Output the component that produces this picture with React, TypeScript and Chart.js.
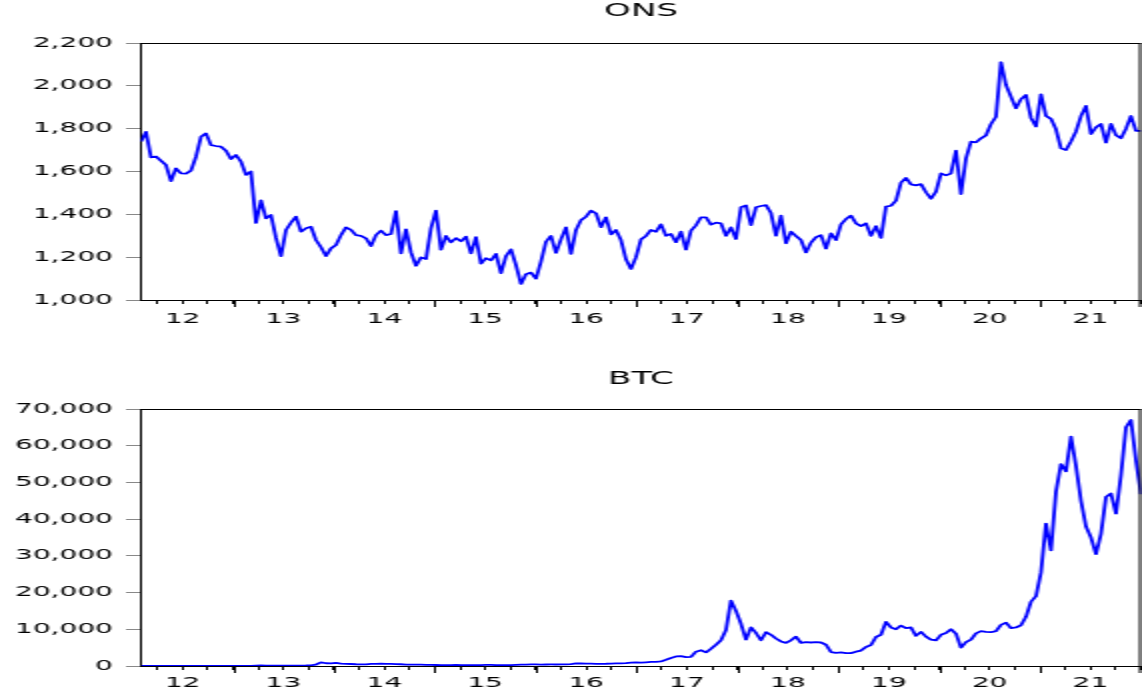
import React, { useEffect, useRef } from 'react';
import { Chart, registerables } from 'chart.js';

Chart.register(...registerables);

// ---- data ----
const X_START = 2012.088; // first observation (fractional year)
const X_END = 2022.0; // last observation
const YEARS = [2012, 2013, 2014, 2015, 2016, 2017, 2018, 2019, 2020, 2021];
const YEAR_LABELS = ['12', '13', '14', '15', '16', '17', '18', '19', '20', '21'];
const ONS_TICKS = [1000, 1200, 1400, 1600, 1800, 2000, 2200];
const BTC_TICKS = [0, 10000, 20000, 30000, 40000, 50000, 60000, 70000];

const ONS_VALUES = [
  1740, 1785, 1666, 1670, 1650, 1630, 1555, 1615, 1591, 1590,
  1604, 1669, 1762, 1778, 1723, 1719, 1716, 1697, 1658, 1677,
  1646, 1584, 1600, 1360, 1465, 1381, 1397, 1290, 1205, 1327,
  1361, 1389, 1319, 1335, 1342, 1280, 1246, 1205, 1241, 1257,
  1303, 1339, 1327, 1303, 1299, 1288, 1252, 1303, 1324, 1303,
  1308, 1415, 1218, 1330, 1222, 1160, 1199, 1191, 1335, 1417,
  1235, 1299, 1269, 1289, 1274, 1296, 1218, 1293, 1170, 1195,
  1185, 1215, 1125, 1205, 1236, 1163, 1075, 1120, 1128, 1100,
  1179, 1272, 1299, 1220, 1283, 1339, 1215, 1327, 1373, 1389,
  1417, 1405, 1340, 1386, 1306, 1327, 1280, 1190, 1145, 1200,
  1283, 1299, 1327, 1319, 1353, 1300, 1308, 1270, 1319, 1235,
  1324, 1349, 1386, 1386, 1352, 1361, 1358, 1300, 1339, 1285,
  1433, 1442, 1350, 1433, 1439, 1443, 1406, 1300, 1394, 1265,
  1319, 1299, 1280, 1222, 1268, 1293, 1303, 1240, 1311, 1280,
  1353, 1378, 1394, 1358, 1345, 1358, 1300, 1345, 1290, 1436,
  1440, 1464, 1548, 1570, 1540, 1535, 1541, 1503, 1473, 1506,
  1591, 1582, 1591, 1697, 1495, 1661, 1739, 1736, 1755, 1769,
  1822, 1856, 2110, 2004, 1949, 1895, 1938, 1957, 1850, 1810,
  1960, 1860, 1846, 1797, 1708, 1700, 1740, 1787, 1859, 1906,
  1775, 1806, 1822, 1735, 1822, 1770, 1755, 1800, 1859, 1790,
  1790,
];

const BTC_VALUES = [
  6, 5, 5, 5, 5, 5, 6, 7, 7, 8,
  11, 11, 12, 12, 11, 12, 13, 13, 13, 17,
  22, 30, 47, 90, 140, 115, 120, 105, 95, 80,
  95, 110, 125, 140, 190, 400, 1000, 750, 700, 850,
  650, 600, 550, 480, 450, 440, 560, 600, 620, 600,
  580, 500, 480, 400, 380, 350, 370, 330, 320, 270,
  210, 230, 250, 270, 250, 230, 240, 240, 250, 280,
  290, 240, 230, 240, 245, 310, 380, 400, 440, 430,
  380, 410, 420, 415, 425, 450, 530, 700, 680, 660,
  620, 580, 600, 610, 640, 700, 740, 770, 920, 1000,
  900, 1000, 1100, 1150, 1250, 1700, 2200, 2600, 2700, 2400,
  2500, 3900, 4300, 3700, 4700, 5800, 7000, 9800, 17800, 15000,
  11500, 7200, 10500, 9000, 7000, 9200, 8500, 7500, 6700, 6300,
  7000, 8000, 6300, 6500, 6400, 6500, 6400, 5800, 3800, 3600,
  3700, 3500, 3500, 3900, 4200, 5200, 5700, 7900, 8500, 12000,
  10500, 10000, 11000, 10300, 10500, 8200, 9300, 8000, 7200, 7000,
  8500, 9000, 10000, 8800, 5000, 6500, 7200, 8900, 9500, 9300,
  9200, 9500, 11200, 11800, 10300, 10500, 11100, 13400, 17500, 19000,
  25500, 38800, 31500, 47500, 55000, 53000, 62500, 54500, 45000, 38000,
  35000, 30500, 36000, 46000, 47000, 41500, 52000, 65000, 67000, 56000,
  46800,
];

// ---- presentation ----
const FONT = 'DejaVu Sans';
const W = 571; // bitmap width, shown stretched 2x horizontally
const H = 350;
const TITLE_SIZE = 17;

const QUARTER_TICKS: number[] = [];
YEARS.forEach((y) => {
  [0, 0.25, 0.5, 0.75].forEach((q) => {
    if (y + q >= X_START) QUARTER_TICKS.push(y + q);
  });
});
QUARTER_TICKS.push(2022);

function yearLabel(v: number): string {
  const y = Math.floor(v);
  if (Math.abs(v - y - 0.5) < 1e-6) {
    const idx = YEARS.indexOf(y);
    return idx >= 0 ? YEAR_LABELS[idx] : '';
  }
  return '';
}

const framePlugin = {
  id: 'eviewsFrame',
  afterDraw(chart: any) {
    const { ctx, chartArea } = chart;
    const xs = chart.scales.x;
    ctx.save();
    ctx.strokeStyle = '#000';
    ctx.lineWidth = 1;
    ctx.beginPath();
    const top = Math.round(chartArea.top) + 0.5;
    ctx.moveTo(chartArea.left, top);
    ctx.lineTo(chartArea.right, top);
    ctx.moveTo(chartArea.right - 0.5, chartArea.top);
    ctx.lineTo(chartArea.right - 0.5, chartArea.bottom);
    // longer tick marks at year boundaries
    [...YEARS.slice(1), 2022].forEach((y) => {
      const px = Math.min(Math.round(xs.getPixelForValue(y)) + 0.5, chartArea.right - 0.5);
      ctx.moveTo(px, chartArea.bottom);
      ctx.lineTo(px, chartArea.bottom + 7);
    });
    ctx.stroke();
    ctx.restore();
  },
};

type PanelProps = {
  title: string;
  values: number[];
  yTicks: number[];
  plotTop: number;
  plotBottom: number;
  titlePadTop: number;
  labelPad: number;
};

function Panel({ title, values, yTicks, plotTop, plotBottom, titlePadTop, labelPad }: PanelProps) {
  const ref = useRef<HTMLCanvasElement | null>(null);

  useEffect(() => {
    if (!ref.current) return;
    const step = (X_END - X_START) / (values.length - 1);
    const points = values.map((v, i) => ({ x: X_START + i * step, y: v }));
    const titleLine = TITLE_SIZE * 1.2;
    const chart = new Chart(ref.current, {
      type: 'line',
      data: {
        datasets: [
          {
            data: points,
            borderColor: '#0000ff',
            borderWidth: 1.8,
            pointRadius: 0,
            tension: 0,
            fill: false,
            borderJoinStyle: 'round',
          } as any,
        ],
      },
      options: {
        responsive: false,
        maintainAspectRatio: false,
        animation: false,
        devicePixelRatio: 1,
        events: [],
        layout: { padding: { left: 0, right: 0.5, top: 0, bottom: 0 } },
        plugins: {
          legend: { display: false },
          tooltip: { enabled: false },
          title: {
            display: true,
            text: title,
            fullSize: false,
            color: '#000',
            font: { family: FONT, size: TITLE_SIZE, weight: 'normal' },
            padding: { top: titlePadTop, bottom: plotTop - titlePadTop - titleLine },
          },
        },
        scales: {
          x: {
            type: 'linear',
            min: X_START,
            max: X_END,
            afterBuildTicks: (s: any) => {
              s.ticks = QUARTER_TICKS.map((v) => ({ value: v }));
            },
            afterFit: (s: any) => {
              s.height = H - plotBottom;
              s.paddingLeft = 0;
              s.paddingRight = 0;
            },
            ticks: {
              autoSkip: false,
              maxRotation: 0,
              minRotation: 0,
              padding: labelPad,
              color: '#000',
              font: { family: FONT, size: 14 },
              callback: (v: any) => yearLabel(Number(v)),
            },
            grid: {
              display: true,
              drawOnChartArea: false,
              drawTicks: true,
              tickLength: 4,
              tickColor: '#000',
              tickWidth: 1,
            },
            border: { display: true, color: '#000', width: 1 },
          },
          y: {
            type: 'linear',
            min: yTicks[0],
            max: yTicks[yTicks.length - 1],
            afterBuildTicks: (s: any) => {
              s.ticks = yTicks.map((v) => ({ value: v }));
            },
            afterFit: (s: any) => {
              s.width = 70.5;
            },
            ticks: {
              padding: 6.5,
              color: '#000',
              font: { family: FONT, size: 14 },
              callback: (v: any) => Number(v).toLocaleString('en-US'),
            },
            grid: {
              display: true,
              drawOnChartArea: false,
              drawTicks: true,
              tickLength: 7.5,
              tickColor: '#888',
              tickWidth: 1,
            },
            border: { display: true, color: '#000', width: 1 },
          },
        },
      } as any,
      plugins: [framePlugin],
    });
    return () => chart.destroy();
  }, [title, values, yTicks, plotTop, plotBottom, titlePadTop, labelPad]);

  return (
    <canvas
      ref={ref}
      width={W}
      height={H}
      style={{ display: 'block', width: W * 2, height: H }}
    />
  );
}

export default function App() {
  return (
    <div
      style={{
        position: 'absolute',
        left: 0,
        top: 0,
        width: 1142,
        height: 700,
        background: '#fff',
        overflow: 'hidden',
      }}
    >
      <Panel
        title="ONS"
        values={ONS_VALUES}
        yTicks={ONS_TICKS}
        plotTop={43}
        plotBottom={300}
        titlePadTop={1.5}
        labelPad={7}
      />
      <Panel
        title="BTC"
        values={BTC_VALUES}
        yTicks={BTC_TICKS}
        plotTop={59}
        plotBottom={316}
        titlePadTop={19}
        labelPad={5}
      />
    </div>
  );
}
